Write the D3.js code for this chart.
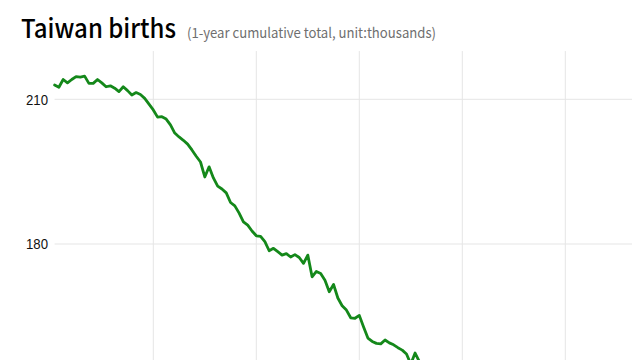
<!DOCTYPE html>
<html>
<head>
<meta charset="utf-8">
<script src="https://cdn.jsdelivr.net/npm/d3@7"></script>
<style>
  html, body { margin: 0; padding: 0; background: #fff; overflow: hidden; }
  svg { display: block; }
</style>
</head>
<body>
<svg id="chart" width="640" height="360"></svg>
<script>
// Monthly 12-month rolling totals (thousands), starting Feb 2015
const startYear = 2015;
const startMonth = 2; // February
const births = [
  212.96, 212.5, 214.1, 213.4, 214.1, 214.7, 214.6, 214.8, 213.3, 213.3,
  214.1, 213.4, 212.6, 212.8, 212.3, 211.6, 212.6, 211.8, 210.9, 211.4,
  211.0, 210.2, 209.0, 207.8, 206.3, 206.4, 205.9, 204.7, 203.0, 202.2,
  201.5, 200.7, 199.5, 198.2, 197.0, 193.9, 196.0, 193.7, 192.0, 191.4,
  190.6, 188.6, 187.9, 186.4, 184.6, 183.9, 182.7, 181.7, 181.6, 180.5,
  178.6, 179.1, 178.4, 177.7, 178.0, 177.3, 177.8, 177.2, 176.0, 177.7,
  173.2, 174.3, 173.9, 172.5, 170.1, 171.6, 168.8, 167.2, 166.3, 164.7,
  164.6, 165.2, 162.8, 160.5, 159.8, 159.4, 159.3, 160.1, 159.5, 159.1,
  158.5, 158.0, 157.2, 155.1, 157.4, 155.6, 154.0
];
const yTicks = [210, 180];
const xTickYears = [2017, 2019, 2021, 2023, 2025];
const titleText = "Taiwan births";
const subtitleText = "(1-year cumulative total, unit:thousands)";

const data = births.map((v, i) => ({ t: startYear + (startMonth - 1 + i) / 12, v }));

const svg = d3.select("#chart");
const x = d3.scaleLinear().domain([2017, 2025]).range([153.3, 565.3]);
const y = d3.scaleLinear().domain([210, 180]).range([99.3, 244]);
const plotLeft = x(data[0].t);
const plotRight = 632;
const plotTop = y(220);
const plotBottom = 600;

// horizontal gridlines
svg.append("g").selectAll("line").data(yTicks).join("line")
  .attr("x1", plotLeft).attr("x2", plotRight)
  .attr("y1", d => y(d)).attr("y2", d => y(d))
  .attr("stroke", "#e5e5e5").attr("stroke-width", 1);

// vertical gridlines
svg.append("g").selectAll("line").data(xTickYears).join("line")
  .attr("x1", d => x(d)).attr("x2", d => x(d))
  .attr("y1", plotTop).attr("y2", plotBottom)
  .attr("stroke", "#e5e5e5").attr("stroke-width", 1);

// y tick labels
svg.append("g").selectAll("text").data(yTicks).join("text")
  .attr("x", 48).attr("y", d => y(d))
  .attr("dy", "0.36em")
  .attr("text-anchor", "end")
  .attr("font-family", "Liberation Sans, Arial, sans-serif")
  .attr("font-size", 14.5)
  .attr("fill", "#111")
  .attr("textLength", 22).attr("lengthAdjust", "spacingAndGlyphs")
  .text(d => d);

// line
const line = d3.line().x(d => x(d.t)).y(d => y(d.v));
svg.append("path").datum(data)
  .attr("d", line)
  .attr("fill", "none")
  .attr("stroke", "#14881a")
  .attr("stroke-width", 2.8)
  .attr("stroke-linejoin", "round")
  .attr("stroke-linecap", "round");

// title
svg.append("text")
  .attr("x", 21).attr("y", 37.5)
  .attr("font-family", "Noto Sans CJK KR, Noto Sans, sans-serif")
  .attr("font-size", 26)
  .attr("font-weight", 500)
  .attr("fill", "#000")
  .attr("textLength", 155).attr("lengthAdjust", "spacingAndGlyphs")
  .text(titleText);

svg.append("text")
  .attr("x", 187).attr("y", 38)
  .attr("font-family", "Noto Sans CJK KR, Noto Sans, sans-serif")
  .attr("font-size", 14)
  .attr("fill", "#6f6f6f")
  .attr("textLength", 249).attr("lengthAdjust", "spacingAndGlyphs")
  .text(subtitleText);
</script>
</body>
</html>
